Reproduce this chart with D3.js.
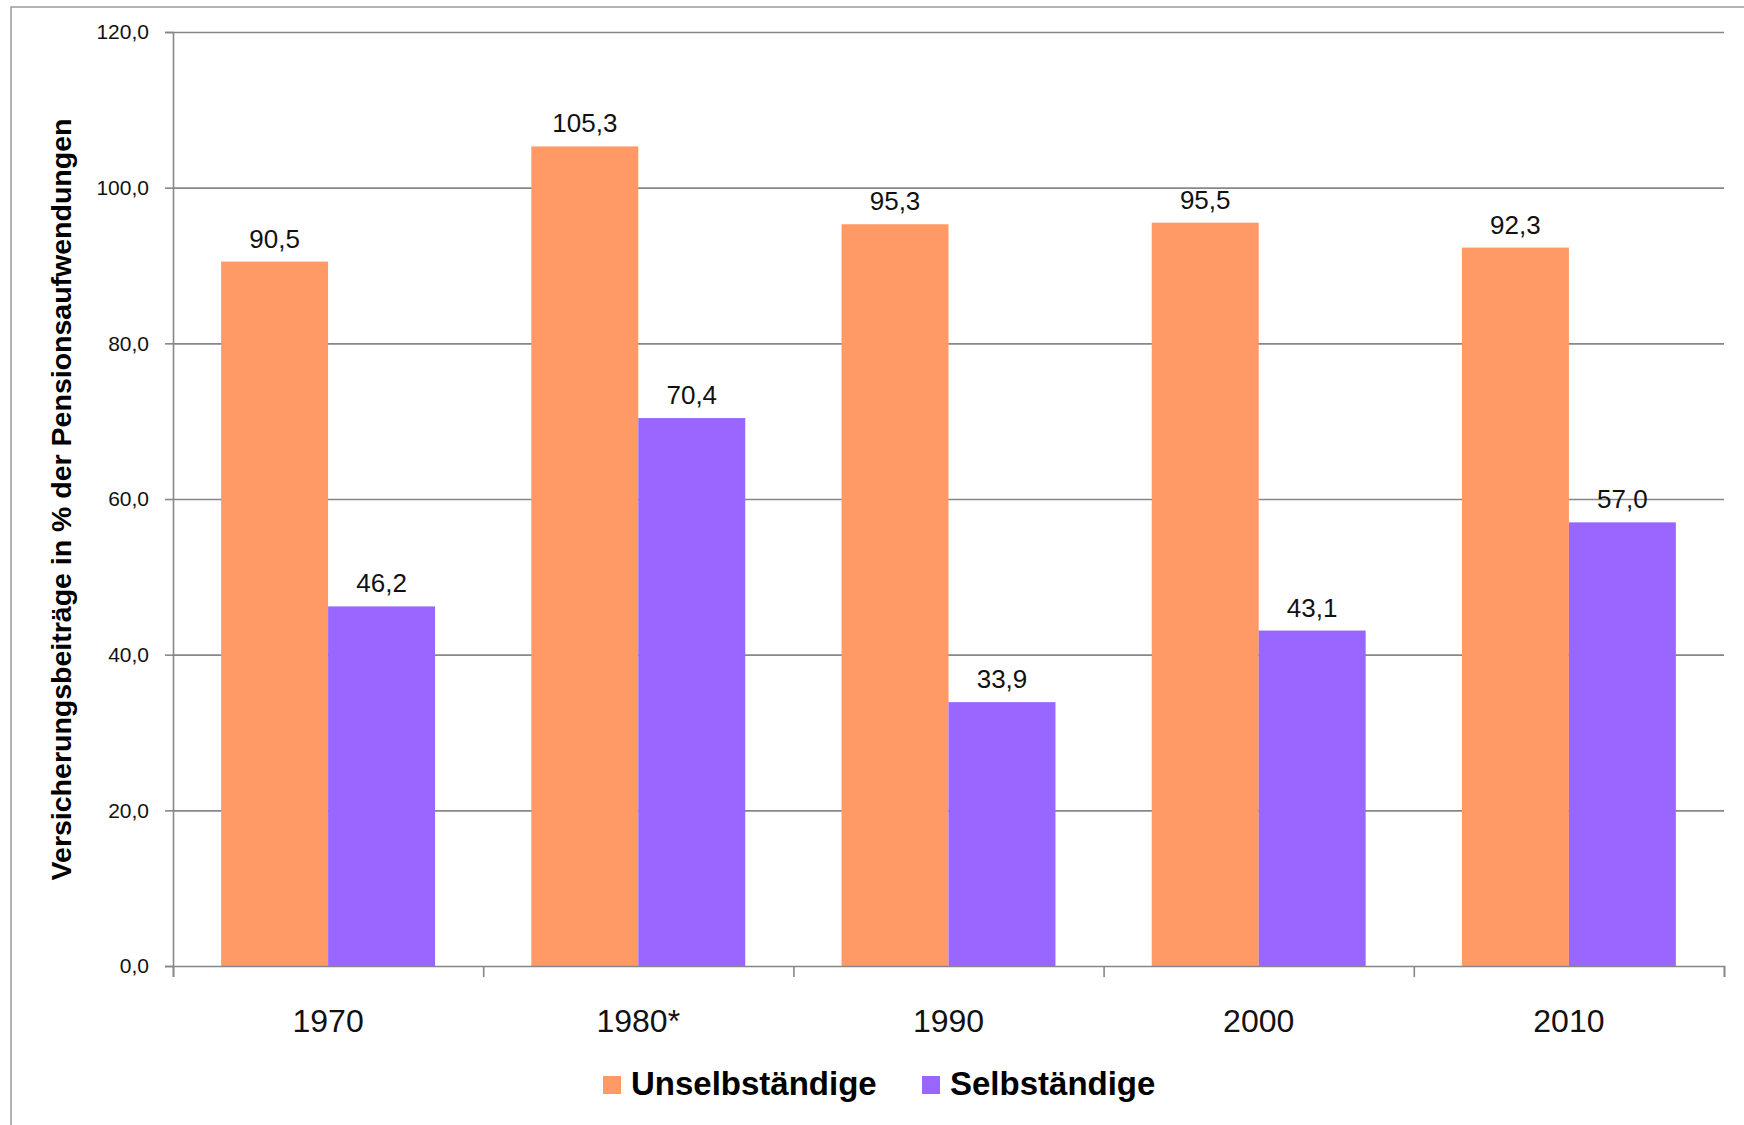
<!DOCTYPE html>
<html>
<head>
<meta charset="utf-8">
<script src="https://cdn.jsdelivr.net/npm/d3@7"></script>
<style>
body { margin: 0; background: #fff; }
svg { display: block; }
</style>
</head>
<body>
<svg id="chart" width="1744" height="1125"></svg>
<script>
// data
var years = ["1970", "1980*", "1990", "2000", "2010"];
var seriesNames = ["Unselbständige", "Selbständige"];
var unselb = [90.5, 105.3, 95.3, 95.5, 92.3];
var selb = [46.2, 70.4, 33.9, 43.1, 57.0];
var yTicks = [0, 20, 40, 60, 80, 100, 120];
var colors = ["#FF9966", "#9966FF"];

var W = 1744, H = 1125;
var plot = {left: 173, right: 1724, top: 32, bottom: 966};
var fontName = "'Liberation Sans', Arial, sans-serif";
var gridColor = "#878787";

var svg = d3.select("#chart");
var locale = d3.formatLocale({decimal: ",", thousands: ".", grouping: [3], currency: ["", "€"]});
var fmt = locale.format(".1f");

// outer frame (right and bottom edge fall outside the picture)
svg.append("rect")
    .attr("x", 11).attr("y", 7)
    .attr("width", W).attr("height", H)
    .attr("fill", "none")
    .attr("stroke", "#9a9a9a")
    .attr("stroke-width", 1.5);

//scales
var y = d3.scaleLinear().domain([0, 120]).range([plot.bottom, plot.top]);
var x0 = d3.scaleBand().domain(years).range([plot.left, plot.right]).padding(0);
var x1 = d3.scaleBand().domain(seriesNames).range([0, x0.bandwidth()])
    .paddingInner(0).paddingOuter(0.45);
var xEdges = d3.scaleLinear().domain([0, years.length]).range([plot.left, plot.right]);

var rows = years.map(function(yr, i){
    return {year: yr, values: [
        {name: seriesNames[0], v: unselb[i], c: colors[0]},
        {name: seriesNames[1], v: selb[i], c: colors[1]}
    ]};
});

// gridlines
svg.append("g")
    .attr("transform", "translate(" + plot.left + ",0)")
    .call(d3.axisLeft(y).tickValues(yTicks.slice(1)).tickSize(-(plot.right - plot.left)).tickFormat(""))
    .call(function(g){ g.select(".domain").remove(); })
    .selectAll("line")
    .attr("stroke", gridColor)
    .attr("stroke-width", 1.6);

// bars
var groups = svg.append("g").selectAll("g.year")
    .data(rows)
    .enter().append("g")
    .attr("class", "year")
    .attr("transform", function(d){ return "translate(" + x0(d.year) + ",0)"; });

groups.selectAll("rect")
    .data(function(d){ return d.values; })
    .enter().append("rect")
    .attr("x", function(d){ return x1(d.name); })
    .attr("y", function(d){ return y(d.v); })
    .attr("width", x1.bandwidth())
    .attr("height", function(d){ return y(0) - y(d.v); })
    .attr("fill", function(d){ return d.c; });

groups.selectAll("text")
    .data(function(d){ return d.values; })
    .enter().append("text")
    .attr("x", function(d){ return x1(d.name) + x1.bandwidth() / 2; })
    .attr("y", function(d){ return y(d.v) - 14; })
    .attr("text-anchor", "middle")
    .attr("font-family", fontName)
    .attr("font-size", "26px")
    .attr("fill", "#111")
    .text(function(d){ return fmt(d.v); });

// y axis
var yAxis = svg.append("g")
    .attr("transform", "translate(" + plot.left + ",0)")
    .call(d3.axisLeft(y).tickValues(yTicks).tickSize(8).tickPadding(16).tickFormat(fmt));
yAxis.select(".domain").attr("stroke", gridColor).attr("stroke-width", 1.6);
yAxis.selectAll("line").attr("stroke", gridColor).attr("stroke-width", 1.6);
yAxis.selectAll("text")
    .attr("font-family", fontName)
    .attr("font-size", "21px")
    .attr("fill", "#111");

// x axis, ticks sit between the categories
var xAxis = svg.append("g")
    .attr("transform", "translate(0," + plot.bottom + ")")
    .call(d3.axisBottom(xEdges).ticks(years.length).tickSize(11).tickFormat(""));
xAxis.select(".domain").attr("stroke", gridColor).attr("stroke-width", 1.6);
xAxis.selectAll("line").attr("stroke", gridColor).attr("stroke-width", 1.6);

svg.append("g").selectAll("text")
    .data(years)
    .enter().append("text")
    .attr("x", function(d){ return x0(d) + x0.bandwidth() / 2; })
    .attr("y", 1032)
    .attr("text-anchor", "middle")
    .attr("font-family", fontName)
    .attr("font-size", "32px")
    .attr("fill", "#111")
    .text(function(d){ return d; });

// y title
svg.append("text")
    .attr("transform", "translate(71," + ((115 + 884) / 2) + ") rotate(-90)")
    .attr("text-anchor", "middle")
    .attr("font-family", fontName)
    .attr("font-weight", "bold")
    .attr("font-size", "28.5px")
    .attr("fill", "#000")
    .text("Versicherungsbeiträge in % der Pensionsaufwendungen");

// legend
var legendX = [603, 922];
var legend = svg.append("g").selectAll("g")
    .data(seriesNames)
    .enter().append("g")
    .attr("transform", function(d, i){ return "translate(" + legendX[i] + ",1076)"; });
legend.append("rect")
    .attr("width", 18).attr("height", 18)
    .attr("fill", function(d, i){ return colors[i]; });
legend.append("text")
    .attr("x", 28)
    .attr("y", 19)
    .attr("font-family", fontName)
    .attr("font-weight", "bold")
    .attr("font-size", "33px")
    .attr("fill", "#000")
    .text(function(d){ return d; });
</script>
</body>
</html>
